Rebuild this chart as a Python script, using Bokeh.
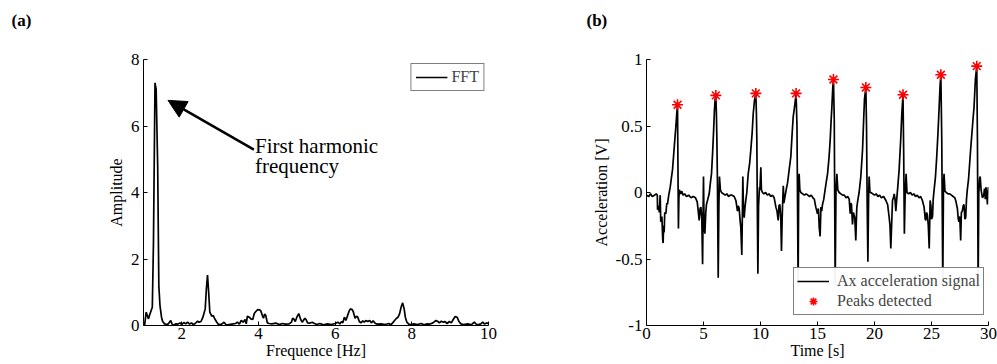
from bokeh.plotting import figure
from bokeh.layouts import row
from bokeh.models import Range1d, FixedTicker, Label, Arrow, NormalHead, Title
from bokeh.embed import file_html
from bokeh.resources import INLINE

# ---------------- data: panel (a) FFT ----------------
freq_hz = [
    1.00, 1.03, 1.07, 1.10, 1.13, 1.17, 1.20, 1.23, 1.26, 1.30,
    1.33, 1.37, 1.40, 1.43, 1.47, 1.50, 1.55, 1.60, 1.65, 1.71,
    1.75, 1.80, 1.85, 1.90, 1.95, 2.00, 2.05, 2.10, 2.15, 2.20,
    2.25, 2.30, 2.35, 2.41, 2.45, 2.50, 2.55, 2.61, 2.64, 2.67,
    2.70, 2.73, 2.78, 2.82, 2.85, 2.90, 2.95, 3.00, 3.05, 3.10,
    3.15, 3.20, 3.30, 3.40, 3.45, 3.50, 3.55, 3.60, 3.65, 3.68,
    3.71, 3.76, 3.80, 3.85, 3.89, 3.93, 3.98, 4.03, 4.06, 4.10,
    4.13, 4.16, 4.19, 4.23, 4.28, 4.35, 4.45, 4.55, 4.62, 4.70,
    4.80, 4.86, 4.89, 4.93, 4.96, 5.00, 5.05, 5.10, 5.14, 5.17,
    5.21, 5.24, 5.28, 5.33, 5.40, 5.46, 5.52, 5.60, 5.70, 5.80,
    5.90, 6.00, 6.07, 6.12, 6.17, 6.20, 6.24, 6.28, 6.33, 6.37,
    6.40, 6.44, 6.47, 6.52, 6.56, 6.59, 6.63, 6.67, 6.72, 6.76,
    6.80, 6.85, 6.90, 6.95, 6.99, 7.05, 7.10, 7.20, 7.30, 7.40,
    7.45, 7.50, 7.55, 7.60, 7.64, 7.68, 7.72, 7.76, 7.80, 7.83,
    7.87, 7.92, 7.98, 8.05, 8.15, 8.24, 8.32, 8.40, 8.46, 8.55,
    8.63, 8.68, 8.72, 8.77, 8.82, 8.86, 8.92, 8.98, 9.03, 9.08,
    9.13, 9.18, 9.23, 9.28, 9.35, 9.46, 9.55, 9.63, 9.68, 9.72,
    9.80, 9.85, 9.90, 9.95, 10.0,
]
fft_amplitude = [
    0.10, 0.02, 0.40, 0.30, 0.20, 0.35, 0.45, 0.55, 2.50, 7.30,
    7.10, 4.80, 1.20, 0.60, 0.25, 0.12, 0.05, 0.03, 0.05, 0.15,
    0.03, 0.02, 0.05, 0.04, 0.08, 0.03, 0.09, 0.05, 0.10, 0.04,
    0.08, 0.03, 0.06, 0.13, 0.10, 0.12, 0.25, 0.50, 1.10, 1.52,
    1.00, 0.40, 0.28, 0.30, 0.22, 0.12, 0.04, 0.02, 0.05, 0.10,
    0.03, 0.02, 0.04, 0.06, 0.10, 0.04, 0.15, 0.10, 0.18, 0.05,
    0.28, 0.25, 0.20, 0.18, 0.36, 0.42, 0.48, 0.47, 0.44, 0.30,
    0.22, 0.35, 0.30, 0.08, 0.06, 0.05, 0.07, 0.03, 0.06, 0.04,
    0.05, 0.10, 0.22, 0.18, 0.12, 0.25, 0.36, 0.18, 0.10, 0.15,
    0.22, 0.18, 0.08, 0.07, 0.10, 0.06, 0.03, 0.06, 0.02, 0.05,
    0.03, 0.06, 0.10, 0.05, 0.12, 0.08, 0.25, 0.15, 0.32, 0.45,
    0.50, 0.48, 0.42, 0.22, 0.28, 0.25, 0.12, 0.08, 0.14, 0.10,
    0.15, 0.12, 0.15, 0.08, 0.14, 0.06, 0.04, 0.05, 0.03, 0.06,
    0.02, 0.08, 0.15, 0.22, 0.25, 0.35, 0.55, 0.68, 0.50, 0.25,
    0.10, 0.04, 0.02, 0.05, 0.03, 0.06, 0.02, 0.05, 0.04, 0.08,
    0.15, 0.12, 0.08, 0.13, 0.10, 0.12, 0.06, 0.12, 0.08, 0.18,
    0.27, 0.25, 0.12, 0.05, 0.03, 0.05, 0.02, 0.10, 0.04, 0.02,
    0.05, 0.10, 0.04, 0.08, 0.05,
]
fft_xticks = [2, 4, 6, 8, 10]
fft_yticks = [0, 2, 4, 6, 8]

# ---------------- data: panel (b) acceleration ----------------
time_s = [
    0.0, 0.2, 0.35, 0.5, 0.7, 0.85, 0.95, 0.97, 1.05, 1.12,
    1.2, 1.25, 1.35, 1.42, 1.46, 1.5, 1.55, 1.6, 1.7, 1.78,
    1.84, 1.95, 2.08, 2.2, 2.28, 2.38, 2.45, 2.57, 2.66, 2.72,
    2.75, 2.8, 2.84, 2.88, 3.0, 3.1, 3.2, 3.35, 3.5, 3.7,
    3.9, 4.1, 4.3, 4.45, 4.55, 4.62, 4.7, 4.77, 4.85, 4.92,
    4.97, 5.0, 5.05, 5.12, 5.2, 5.26, 5.38, 5.5, 5.6, 5.7,
    5.8, 5.88, 5.96, 6.02, 6.08, 6.13, 6.17, 6.22, 6.29, 6.35,
    6.4, 6.48, 6.58, 6.75, 6.9, 7.05, 7.2, 7.35, 7.5, 7.69,
    7.84, 7.98, 8.05, 8.13, 8.2, 8.27, 8.36, 8.42, 8.45, 8.5,
    8.57, 8.65, 8.71, 8.8, 8.92, 9.05, 9.15, 9.27, 9.36, 9.47,
    9.59, 9.64, 9.68, 9.72, 9.77, 9.83, 9.91, 9.95, 10.03, 10.08,
    10.18, 10.3, 10.45, 10.6, 10.75, 10.9, 11.05, 11.2, 11.35, 11.45,
    11.55, 11.62, 11.7, 11.78, 11.84, 11.9, 11.93, 12.0, 12.05, 12.13,
    12.25, 12.37, 12.5, 12.66, 12.78, 12.87, 12.95, 13.05, 13.12, 13.2,
    13.3, 13.35, 13.39, 13.45, 13.54, 13.7, 13.85, 14.0, 14.15, 14.3,
    14.45, 14.6, 14.72, 14.85, 15.0, 15.08, 15.15, 15.23, 15.3, 15.37,
    15.44, 15.55, 15.65, 15.77, 15.88, 16.0, 16.11, 16.2, 16.26, 16.34,
    16.4, 16.47, 16.55, 16.62, 16.7, 16.78, 16.9, 17.05, 17.2, 17.35,
    17.5, 17.65, 17.78, 17.87, 17.92, 17.98, 18.07, 18.15, 18.27, 18.36,
    18.42, 18.45, 18.55, 18.65, 18.8, 18.95, 19.05, 19.12, 19.24, 19.3,
    19.36, 19.42, 19.48, 19.53, 19.6, 19.68, 19.85, 20.0, 20.15, 20.3,
    20.45, 20.6, 20.8, 21.0, 21.15, 21.29, 21.36, 21.43, 21.5, 21.58,
    21.66, 21.73, 21.8, 21.87, 21.95, 22.05, 22.16, 22.3, 22.4, 22.5,
    22.56, 22.62, 22.68, 22.77, 22.85, 23.0, 23.15, 23.3, 23.45, 23.6,
    23.75, 23.9, 24.05, 24.2, 24.35, 24.45, 24.5, 24.57, 24.64, 24.72,
    24.8, 24.86, 24.88, 24.95, 25.0, 25.09, 25.15, 25.23, 25.35, 25.46,
    25.57, 25.67, 25.75, 25.82, 25.9, 25.99, 26.05, 26.1, 26.18, 26.3,
    26.45, 26.6, 26.75, 26.9, 27.05, 27.15, 27.27, 27.35, 27.41, 27.48,
    27.56, 27.62, 27.7, 27.78, 27.85, 27.93, 28.0, 28.07, 28.14, 28.25,
    28.43, 28.55, 28.65, 28.73, 28.85, 28.97, 29.03, 29.09, 29.15, 29.22,
    29.27, 29.35, 29.47, 29.58, 29.65, 29.72, 29.77, 29.85, 29.91, 29.98,
    30.0,
]
accel_v = [
    -0.02, -0.03, -0.01, -0.03, -0.02, -0.01, -0.02, -0.13, -0.10, -0.15,
    -0.02, -0.22, -0.18, -0.35, -0.38, -0.25, -0.30, -0.15, -0.16, -0.08,
    -0.09, -0.02, 0.04, 0.12, 0.17, 0.28, 0.36, 0.49, 0.60, 0.66,
    0.30, -0.27, -0.05, 0.02, -0.01, 0.01, -0.02, -0.01, -0.03, -0.02,
    -0.04, -0.03, -0.04, -0.07, -0.15, -0.21, -0.12, -0.11, -0.20, -0.54,
    -0.10, 0.12, -0.25, -0.31, -0.15, -0.09, -0.05, -0.01, 0.07, 0.14,
    0.30, 0.45, 0.62, 0.70, 0.73, 0.60, 0.42, 0.10, -0.64, -0.10,
    0.12, 0.02, 0.0, -0.01, -0.02, -0.01, -0.03, -0.02, -0.02, -0.03,
    -0.06, -0.14, -0.10, -0.12, -0.20, -0.26, -0.47, -0.10, 0.12, -0.10,
    -0.19, -0.10, -0.06, 0.0, 0.14, 0.22, 0.32, 0.45, 0.59, 0.69,
    0.745, 0.60, 0.39, -0.10, -0.61, -0.10, 0.04, 0.02, 0.19, 0.02,
    0.0, -0.01, 0.0, -0.02, -0.01, -0.03, -0.02, -0.04, -0.11, -0.14,
    -0.21, -0.10, -0.09, -0.20, -0.44, -0.20, -0.11, 0.05, -0.08, -0.04,
    0.02, 0.07, 0.16, 0.27, 0.45, 0.57, 0.62, 0.69, 0.745, 0.50,
    -0.70, 0.05, 0.14, 0.02, 0.0, -0.01, -0.02, -0.01, -0.02, -0.03,
    -0.02, -0.04, -0.05, -0.11, -0.16, -0.12, -0.26, -0.33, -0.11, -0.14,
    -0.09, -0.05, 0.01, 0.08, 0.14, 0.25, 0.39, 0.55, 0.64, 0.79,
    0.85, 0.55, -0.70, 0.0, 0.14, 0.02, 0.0, -0.01, -0.02, -0.02,
    -0.04, -0.03, -0.05, -0.16, -0.08, -0.09, -0.24, -0.15, -0.19, -0.36,
    -0.18, -0.11, -0.05, 0.0, 0.12, 0.32, 0.55, 0.70, 0.79, 0.50,
    -0.10, -0.52, -0.05, 0.12, 0.0, 0.0, -0.01, -0.02, -0.01, -0.03,
    -0.02, -0.04, -0.03, -0.06, -0.09, -0.19, -0.25, -0.42, -0.25, -0.06,
    -0.04, -0.01, -0.05, -0.14, -0.05, 0.05, 0.17, 0.40, 0.60, 0.735,
    0.30, -0.31, -0.05, 0.14, 0.0, -0.01, 0.0, -0.02, -0.01, -0.03,
    -0.02, -0.04, -0.03, -0.06, -0.11, -0.20, -0.21, -0.15, -0.17, -0.25,
    -0.42, -0.15, -0.06, -0.10, -0.20, -0.18, -0.05, 0.02, 0.12, 0.27,
    0.45, 0.64, 0.80, 0.885, 0.40, -0.70, 0.05, 0.14, 0.01, 0.0,
    -0.01, -0.01, -0.02, -0.03, -0.04, -0.07, -0.12, -0.20, -0.22, -0.18,
    -0.36, -0.15, -0.14, -0.10, -0.09, -0.20, -0.19, -0.05, 0.02, 0.10,
    0.32, 0.45, 0.56, 0.64, 0.85, 0.95, 0.40, -0.70, 0.0, 0.10,
    0.12, 0.02, -0.04, -0.02, 0.03, -0.05, 0.04, -0.02, -0.09, 0.04,
    0.03,
]
peak_t = [2.72, 6.08, 9.59, 13.12, 16.40, 19.24, 22.50, 25.82, 28.97]
peak_v = [0.66, 0.73, 0.745, 0.745, 0.85, 0.79, 0.735, 0.885, 0.95]
acc_xticks = [0, 5, 10, 15, 20, 25, 30]
acc_yticks = [-1, -0.5, 0, 0.5, 1]
acc_ylabels = {-1: "-1", -0.5: "-0.5", 0: "0", 0.5: "0.5", 1: "1"}

FONT = "Liberation Serif"


def style(p, xticks, yticks):
    p.outline_line_color = None
    p.grid.visible = False
    p.background_fill_color = "white"
    p.border_fill_color = "white"
    p.xaxis.ticker = FixedTicker(ticks=xticks)
    p.yaxis.ticker = FixedTicker(ticks=yticks)
    for ax in (p.xaxis[0], p.yaxis[0]):
        ax.axis_line_color = "black"
        ax.axis_line_width = 1
        ax.major_tick_line_color = "black"
        ax.major_tick_in = 4
        ax.major_tick_out = 0
        ax.minor_tick_line_color = None
        ax.major_label_text_font = FONT
        ax.major_label_text_font_size = "17px"
        ax.major_label_text_color = "black"
        ax.axis_label_text_font = FONT
        ax.axis_label_text_font_size = "16px"
        ax.axis_label_text_font_style = "normal"
        ax.axis_label_text_color = "black"
    p.xaxis.major_label_standoff = 2
    p.xaxis.axis_label_standoff = 0
    p.yaxis.major_label_standoff = 4
    p.yaxis.axis_label_standoff = 3


def panel_tag(text, offset):
    # second (blank) line pushes the tag up towards the top of the page
    return Title(text=text + "\n ", align="left", vertical_align="top", offset=offset, standoff=18,
                 text_font=FONT, text_font_size="17px", text_font_style="bold",
                 text_color="black")


# ---------------- panel (a) ----------------
pa = figure(width=560, height=364, output_backend="svg", toolbar_location=None,
            x_range=Range1d(1, 10), y_range=Range1d(0, 8),
            min_border_left=143, min_border_right=72, min_border_top=59, min_border_bottom=39,
            x_axis_label="Frequence [Hz]", y_axis_label="Amplitude")
style(pa, fft_xticks, fft_yticks)
pa.add_layout(panel_tag("(a)", -132), "above")
pa.line(freq_hz, fft_amplitude, line_color="black", line_width=1.7, legend_label="FFT")
pa.legend.location = "top_right"
pa.legend.margin = 4
pa.legend.padding = 4
pa.legend.spacing = 0
pa.legend.border_line_color = "black"
pa.legend.border_line_width = 1
pa.legend.label_text_font = FONT
pa.legend.label_text_font_size = "16px"
pa.legend.label_height = 18
pa.legend.glyph_height = 18
pa.legend.glyph_width = 32
pa.legend.label_standoff = 4

pa.add_layout(Arrow(end=NormalHead(size=18, fill_color="black", line_color="black"),
                    x_start=3.88, y_start=5.29, x_end=1.64, y_end=6.77,
                    line_color="black", line_width=2.5))
pa.add_layout(Label(x=3.91, y=5.41, text="First harmonic", text_font=FONT,
                    text_font_size="21px", text_color="black", text_baseline="alphabetic"))
pa.add_layout(Label(x=3.91, y=4.80, text="frequency", text_font=FONT,
                    text_font_size="21px", text_color="black", text_baseline="alphabetic"))

# ---------------- panel (b) ----------------
pb = figure(width=437, height=364, output_backend="svg", toolbar_location=None,
            x_range=Range1d(0, 30), y_range=Range1d(-1, 1),
            min_border_left=86, min_border_right=9, min_border_top=59, min_border_bottom=39,
            x_axis_label="Time [s]", y_axis_label="Acceleration [V]")
style(pb, acc_xticks, acc_yticks)
pb.add_layout(panel_tag("(b)", -60), "above")
pb.yaxis.major_label_overrides = acc_ylabels
pb.line(time_s, accel_v, line_color="black", line_width=1.7, legend_label="Ax acceleration signal")
pb.scatter(peak_t, peak_v, marker="asterisk", size=11, line_color="red", line_width=1.6,
           legend_label="Peaks detected")
pb.legend.location = (147, 10)
pb.legend.margin = 0
pb.legend.padding = 3
pb.legend.spacing = 0
pb.legend.border_line_color = "black"
pb.legend.border_line_width = 1.5
pb.legend.label_text_font = FONT
pb.legend.label_text_font_size = "16px"
pb.legend.label_height = 20
pb.legend.glyph_height = 20
pb.legend.glyph_width = 32
pb.legend.label_standoff = 8

layout = row(pa, pb)
open("out.html", "w").write(file_html(layout, INLINE))
